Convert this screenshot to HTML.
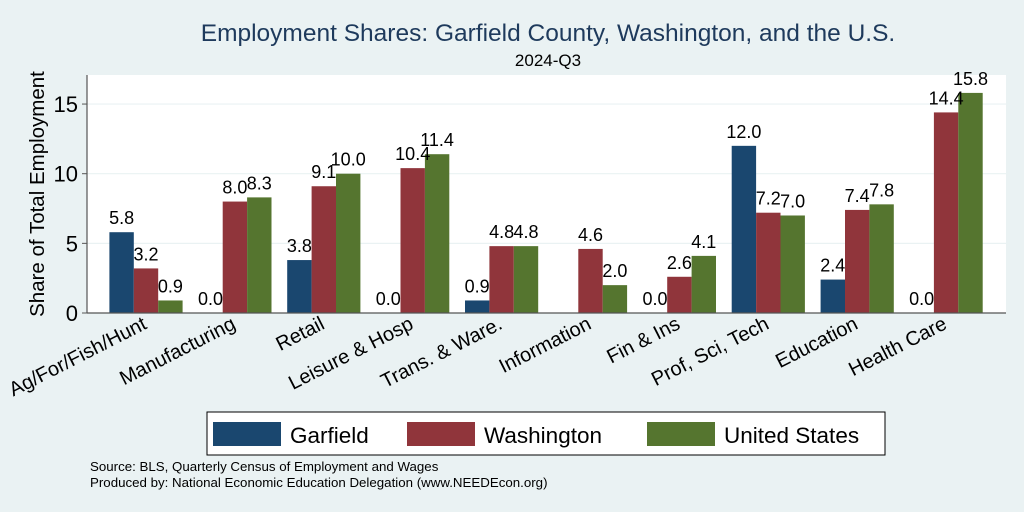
<!DOCTYPE html>
<html><head><meta charset="utf-8"><style>
html,body{margin:0;padding:0;background:#eaf2f3;}
svg{display:block;font-family:"Liberation Sans",Arial,sans-serif;}
</style></head><body>
<svg id="chart" width="1024" height="512" viewBox="0 0 1024 512">
<rect x="0" y="0" width="1024" height="512" fill="#eaf2f3"/>
<text x="548" y="41" text-anchor="middle" font-size="24.5" fill="#1e3a5c">Employment Shares: Garfield County, Washington, and the U.S.</text>
<text x="548" y="66" text-anchor="middle" font-size="17" fill="#000">2024-Q3</text>
<rect x="87" y="75" width="919" height="238" fill="#fff"/>
<g id="grid"></g>
<g id="bars"></g>
<g id="vals"></g>
<line x1="87" y1="75" x2="87" y2="313" stroke="#555" stroke-width="1.2"/>
<line x1="87" y1="313" x2="1006" y2="313" stroke="#555" stroke-width="1.2"/>
<g id="yticks"></g>
<g id="xlabels"></g>
<text transform="translate(44,194) rotate(-90)" text-anchor="middle" font-size="20.5">Share of Total Employment</text>
<rect x="207" y="412" width="678" height="43" fill="#fff" stroke="#000" stroke-width="1"/>
<g><rect x="213" y="422" width="68" height="24" fill="#1a476f"/><text x="290" y="443" font-size="22.5">Garfield</text></g>
<g><rect x="407" y="422" width="68" height="24" fill="#90353b"/><text x="484" y="443" font-size="22.5">Washington</text></g>
<g><rect x="647" y="422" width="68" height="24" fill="#55752f"/><text x="724" y="443" font-size="22.5">United States</text></g>
<text x="90" y="471" font-size="13.3">Source: BLS, Quarterly Census of Employment and Wages</text>
<text x="90" y="487" font-size="13.3">Produced by: National Economic Education Delegation (www.NEEDEcon.org)</text>
</svg>
<script>
const categories=["Ag/For/Fish/Hunt","Manufacturing","Retail","Leisure & Hosp","Trans. & Ware.","Information","Fin & Ins","Prof, Sci, Tech","Education","Health Care"];
const garfield=[5.8,0.0,3.8,0.0,0.9,null,0.0,12.0,2.4,0.0];
const washington=[3.2,8.0,9.1,10.4,4.8,4.6,2.6,7.2,7.4,14.4];
const unitedStates=[0.9,8.3,10.0,11.4,4.8,2.0,4.1,7.0,7.8,15.8];
const yTicks=[0,5,10,15];
const NS="http://www.w3.org/2000/svg";
const y0=313, pxPer=13.93;
function yScale(v){return y0-v*pxPer;}
function xCenter(i){return 146+i*88.9;}
const bw=24.4;
function mk(tag,attrs,parent){const e=document.createElementNS(NS,tag);for(const k in attrs)e.setAttribute(k,attrs[k]);parent.appendChild(e);return e;}
const grid=document.getElementById('grid'),bars=document.getElementById('bars'),vals=document.getElementById('vals'),yt=document.getElementById('yticks'),xl=document.getElementById('xlabels');
yTicks.forEach(t=>{
  if(t>0){const g=mk('line',{x1:87,x2:1006,y1:yScale(t),y2:yScale(t),stroke:'#eaf2f3','stroke-width':1.2},grid);
  
  }
  const tk=mk('line',{x1:82,x2:87,y1:yScale(t),y2:yScale(t),stroke:'#555'},yt);
  
  
  const tl=mk('text',{x:78,y:yScale(t)+8,'text-anchor':'end','font-size':22},yt);
  tl.textContent=t;
  
  
});
const series=[[garfield,'#1a476f','garfield'],[washington,'#90353b','washington'],[unitedStates,'#55752f','united-states']];
categories.forEach((c,i)=>{
  series.forEach((s,j)=>{
    const v=s[0][i];if(v===null)return;const x=xCenter(i)+(j-1.5)*bw;
    const r=mk('rect',{x:x,y:yScale(v),width:bw,height:v*pxPer,fill:s[1]},bars);
    
    
    const t=mk('text',{x:x+bw/2,y:yScale(v)-8,'text-anchor':'middle','font-size':18},vals);
    t.textContent=v.toFixed(1);
    
    
  });
  const lab=mk('text',{transform:'translate('+(xCenter(i)+2)+',328) rotate(-27)','text-anchor':'end','font-size':20},xl);
  lab.textContent=c;
  
  
});
</script>
</body></html>
